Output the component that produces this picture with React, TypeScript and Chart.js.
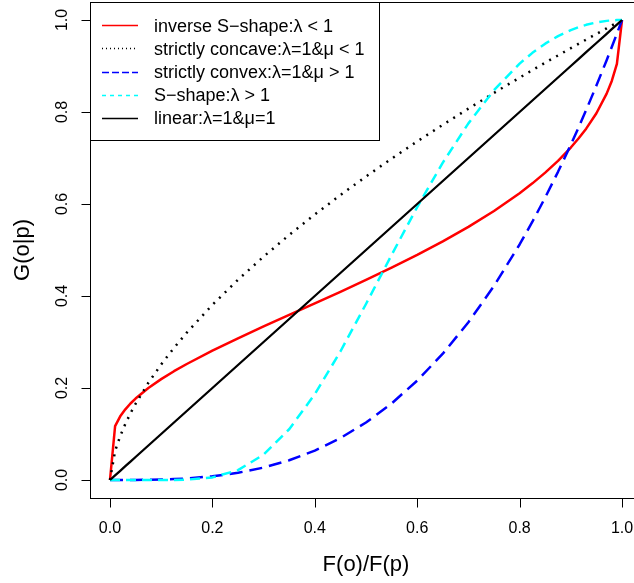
import React, { useEffect, useRef } from "react";
import { Chart, registerables } from "chart.js";

Chart.register(...registerables);

// ---- data ----
const xValues = [
  0, 0.01, 0.02, 0.03, 0.04, 0.05, 0.075, 0.1, 0.125, 0.15, 0.2, 0.25, 0.3, 0.35, 0.4,
  0.45, 0.5, 0.55, 0.6, 0.65, 0.7, 0.75, 0.8, 0.825, 0.85, 0.875, 0.9, 0.915, 0.93, 0.95,
  0.97, 0.98, 0.99, 1,
];
const inverseS = [
  0, 0.117, 0.1384, 0.1537, 0.1663, 0.1771, 0.2, 0.2193, 0.2365, 0.2522, 0.2812, 0.3081,
  0.3338, 0.359, 0.384, 0.4092, 0.4349, 0.4615, 0.4893, 0.5188, 0.5503, 0.5849, 0.6235,
  0.6449, 0.6683, 0.6939, 0.7228, 0.7423, 0.7638, 0.7973, 0.8399, 0.8675, 0.9046, 1,
];
const concave = [
  0, 0.0631, 0.0956, 0.122, 0.145, 0.1657, 0.2114, 0.2512, 0.2872, 0.3204, 0.3807, 0.4353,
  0.4856, 0.5327, 0.5771, 0.6194, 0.6598, 0.6986, 0.736, 0.7722, 0.8073, 0.8415, 0.8747,
  0.891, 0.9071, 0.923, 0.9387, 0.9481, 0.9574, 0.9697, 0.9819, 0.988, 0.994, 1,
];
const convex = [
  0, 0.000001, 0.000008, 0.000027, 0.000064, 0.000125, 0.000422, 0.001, 0.00195, 0.003375,
  0.008, 0.015625, 0.027, 0.042875, 0.064, 0.091125, 0.125, 0.166375, 0.216, 0.274625,
  0.343, 0.421875, 0.512, 0.5615, 0.614125, 0.66992, 0.729, 0.76605, 0.804357, 0.857375,
  0.912673, 0.941192, 0.970299, 1,
];
const sShape = [
  0, 0, 0, 0, 0, 0, 0.000002, 0.000025, 0.000176, 0.00075, 0.00563, 0.0214, 0.0551, 0.1103,
  0.1865, 0.2794, 0.3826, 0.4893, 0.5934, 0.6899, 0.7753, 0.8475, 0.9052, 0.9286, 0.9486,
  0.965, 0.978, 0.9843, 0.9895, 0.9948, 0.9981, 0.9992, 0.9998, 1,
];
const linear = [
  0, 0.01, 0.02, 0.03, 0.04, 0.05, 0.075, 0.1, 0.125, 0.15, 0.2, 0.25, 0.3, 0.35, 0.4,
  0.45, 0.5, 0.55, 0.6, 0.65, 0.7, 0.75, 0.8, 0.825, 0.85, 0.875, 0.9, 0.915, 0.93, 0.95,
  0.97, 0.98, 0.99, 1,
];

const seriesLabels = [
  "inverse S\u2212shape:\u03bb < 1",
  "strictly concave:\u03bb=1&\u03bc < 1",
  "strictly convex:\u03bb=1&\u03bc > 1",
  "S\u2212shape:\u03bb > 1",
  "linear:\u03bb=1&\u03bc=1",
];
const seriesColors = ["#ff0000", "#000000", "#0000ff", "#00ffff", "#000000"];
const xTicks = [0, 0.2, 0.4, 0.6, 0.8, 1];
const xTickLabels = ["0.0", "0.2", "0.4", "0.6", "0.8", "1.0"];
const yTicks = [0, 0.2, 0.4, 0.6, 0.8, 1];
const yTickLabels = ["0.0", "0.2", "0.4", "0.6", "0.8", "1.0"];
const xTitle = "F(o)/F(p)";
const yTitle = "G(o|p)";

const FONT = "'Liberation Sans', Arial, Helvetica, sans-serif";
const W = 660;
const H = 583;

const toPoints = (ys: number[]) => xValues.map((x, i) => ({ x, y: ys[i] }));

const decorPlugin = {
  id: "decor",
  afterDraw(chart: any) {
    const ctx = chart.ctx as CanvasRenderingContext2D;
    const xs = chart.scales.x;
    const ys = chart.scales.y;
    const a = chart.chartArea;
    const L = Math.round(a.left) + 0.5;
    const T = Math.round(a.top) + 0.5;
    const B = Math.round(a.bottom) + 0.5;
    const R = Math.round(a.right) + 0.5;
    ctx.save();
    ctx.strokeStyle = "#000";
    ctx.fillStyle = "#000";
    ctx.lineWidth = 1;
    ctx.setLineDash([]);
    // box
    ctx.strokeRect(L, T, R - L, B - T);

    // x axis ticks + labels
    ctx.font = `16px ${FONT}`;
    ctx.textAlign = "center";
    ctx.textBaseline = "alphabetic";
    ctx.beginPath();
    const x0 = Math.round(xs.getPixelForValue(xTicks[0])) + 0.5;
    const x1 = Math.round(xs.getPixelForValue(xTicks[xTicks.length - 1])) + 0.5;
    ctx.moveTo(x0, B);
    ctx.lineTo(x1, B);
    xTicks.forEach((v) => {
      const px = Math.round(xs.getPixelForValue(v)) + 0.5;
      ctx.moveTo(px, B);
      ctx.lineTo(px, B + 9);
    });
    ctx.stroke();
    xTicks.forEach((v, i) => {
      ctx.fillText(xTickLabels[i], xs.getPixelForValue(v), 533);
    });

    // y axis ticks + labels
    ctx.beginPath();
    yTicks.forEach((v) => {
      const py = Math.round(ys.getPixelForValue(v)) + 0.5;
      ctx.moveTo(L - 9, py);
      ctx.lineTo(L, py);
    });
    ctx.stroke();
    yTicks.forEach((v, i) => {
      ctx.save();
      ctx.translate(67, ys.getPixelForValue(v));
      ctx.rotate(-Math.PI / 2);
      ctx.fillText(yTickLabels[i], 0, 0);
      ctx.restore();
    });

    // titles
    ctx.font = `22px ${FONT}`;
    ctx.fillText(xTitle, (xs.getPixelForValue(0) + xs.getPixelForValue(1)) / 2, 571);
    ctx.save();
    ctx.translate(29, (ys.getPixelForValue(0) + ys.getPixelForValue(1)) / 2);
    ctx.rotate(-Math.PI / 2);
    ctx.fillText(yTitle, 0, 0);
    ctx.restore();

    // legend
    const lx0 = L;
    const ly0 = T;
    const lx1 = 379.5;
    const ly1 = 140.5;
    ctx.fillStyle = "#fff";
    ctx.fillRect(lx0, ly0, lx1 - lx0, ly1 - ly0);
    ctx.strokeStyle = "#000";
    ctx.lineWidth = 1;
    ctx.strokeRect(lx0, ly0, lx1 - lx0, ly1 - ly0);
    const legendDash = [[], [1, 3], [7, 3], [4, 4], []];
    ctx.font = `18px ${FONT}`;
    ctx.textAlign = "left";
    chart.data.datasets.forEach((ds: any, i: number) => {
      const cy = 25.3 + i * 23.1;
      ctx.save();
      ctx.beginPath();
      ctx.strokeStyle = seriesColors[i];
      ctx.lineWidth = 1.3;
      ctx.setLineDash(legendDash[i]);
      ctx.moveTo(102, Math.round(cy) + 0.5);
      ctx.lineTo(138, Math.round(cy) + 0.5);
      ctx.stroke();
      ctx.restore();
      ctx.fillStyle = "#000";
      ctx.fillText(ds.label, 154, cy + 6.5);
    });
    ctx.restore();
  },
};

export default function App() {
  const ref = useRef<HTMLCanvasElement | null>(null);
  useEffect(() => {
    if (!ref.current) return;
    const common = {
      showLine: true,
      pointRadius: 0,
      pointHoverRadius: 0,
      fill: false,
      tension: 0,
      borderCapStyle: "butt" as const,
      borderJoinStyle: "round" as const,
    };
    const chart = new Chart(ref.current, {
      type: "scatter",
      data: {
        datasets: [
          { ...common, label: seriesLabels[0], data: toPoints(inverseS), borderColor: seriesColors[0], backgroundColor: seriesColors[0], borderWidth: 2.5, order: 4 },
          { ...common, label: seriesLabels[1], data: toPoints(concave), borderColor: seriesColors[1], backgroundColor: seriesColors[1], borderWidth: 2.5, borderDash: [2, 6], order: 3 },
          { ...common, label: seriesLabels[2], data: toPoints(convex), borderColor: seriesColors[2], backgroundColor: seriesColors[2], borderWidth: 2.5, borderDash: [13, 7], order: 2 },
          { ...common, label: seriesLabels[3], data: toPoints(sShape), borderColor: seriesColors[3], backgroundColor: seriesColors[3], borderWidth: 2.5, borderDash: [10, 6], order: 1 },
          { ...common, label: seriesLabels[4], data: toPoints(linear), borderColor: seriesColors[4], backgroundColor: seriesColors[4], borderWidth: 2.3, order: 0 },
        ],
      },
      options: {
        responsive: false,
        animation: false,
        devicePixelRatio: 1,
        layout: { padding: { left: 89.5, top: 1.6, right: W - 642.5, bottom: H - 498.4 } },
        plugins: { legend: { display: false }, tooltip: { enabled: false }, title: { display: false } },
        events: [],
        scales: {
          x: { type: "linear", min: -0.04, max: 1.04, display: false },
          y: { type: "linear", min: -0.04, max: 1.04, display: false },
        },
      },
      plugins: [decorPlugin],
    });
    return () => chart.destroy();
  }, []);
  return (
    <div style={{ position: "fixed", left: 0, top: 0, width: 634, height: 583, overflow: "hidden", background: "#fff" }}>
      <canvas ref={ref} width={W} height={H} style={{ width: W, height: H, display: "block" }} />
    </div>
  );
}
